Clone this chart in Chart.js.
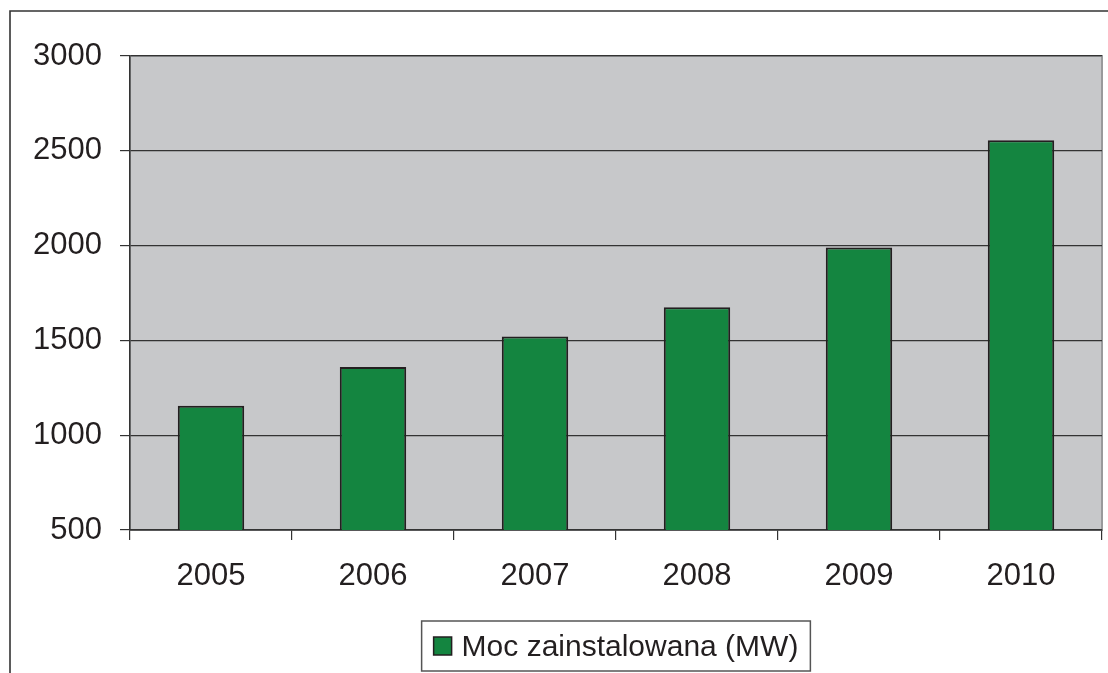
<!DOCTYPE html>
<html>
<head>
<meta charset="utf-8">
<script src="https://cdn.jsdelivr.net/npm/chart.js@4"></script>
<style>
    html, body { margin: 0; padding: 0; background: #fff; }
    #wrap { width: 1108px; height: 673px; position: relative; }
</style>
</head>
<body>
<div id="wrap"><canvas id="MocChart"></canvas></div>
<script>
const years = ["2005", "2006", "2007", "2008", "2009", "2010"];
const mocValues = [1155, 1360, 1520, 1675, 1990, 2555];
const seriesLabel = "Moc zainstalowana (MW)";
const yTicks = [500, 1000, 1500, 2000, 2500, 3000];

const textColor = "#231f20";
const barGreen = "#148540";
const fontFamily = "'Liberation Sans', Arial, sans-serif";

// frame, plot background and the boxed legend
const framePlugin = {
    id: "frame",
    beforeDraw(chart) {
        const ctx = chart.ctx;
        const a = chart.chartArea;
        ctx.save();
        ctx.strokeStyle = "#333";
        ctx.lineWidth = 1.6;
        ctx.beginPath();
        ctx.moveTo(10, 673);
        ctx.lineTo(10, 11);
        ctx.lineTo(1108, 11);
        ctx.stroke();

        ctx.fillStyle = "#c7c8ca";
        ctx.fillRect(a.left, a.top, a.right - a.left, a.bottom - a.top);
        ctx.strokeStyle = "#999a9c";
        ctx.lineWidth = 2;
        ctx.strokeRect(a.left, a.top, a.right - a.left, a.bottom - a.top);
        ctx.restore();
    },
    afterDraw(chart) {
        const ctx = chart.ctx;
        const a = chart.chartArea;
        const ds = chart.data.datasets[0];
        ctx.save();
        ctx.font = "30px " + fontFamily;
        const tw = ctx.measureText(ds.label).width;
        const w = 12 + 18 + 10 + tw + 12;
        const h = 50;
        const x = (a.left + a.right) / 2 - w / 2;
        const y = 621;
        ctx.fillStyle = "#fff";
        ctx.fillRect(x, y, w, h);
        ctx.strokeStyle = "#555";
        ctx.lineWidth = 1.5;
        ctx.strokeRect(x, y, w, h);
        ctx.fillStyle = ds.backgroundColor;
        ctx.fillRect(x + 12, y + 16, 18, 18);
        ctx.strokeStyle = "#231f20";
        ctx.lineWidth = 1.5;
        ctx.strokeRect(x + 12, y + 16, 18, 18);
        ctx.fillStyle = textColor;
        ctx.textBaseline = "alphabetic";
        ctx.fillText(ds.label, x + 40, y + 35);
        ctx.restore();
    }
};

new Chart(document.querySelector("#MocChart"), {
    type: "bar",
    data: {
        labels: years,
        datasets: [{
            label: seriesLabel,
            data: mocValues,
            backgroundColor: barGreen,
            borderColor: "#231f20",
            borderWidth: 2,
            borderSkipped: false,
            barPercentage: 0.41,
            categoryPercentage: 1
        }]
    },
    options: {
        responsive: true,
        maintainAspectRatio: false,
        animation: false,
        layout: {
            padding: { top: 56, right: 6, left: 0, bottom: 0 }
        },
        plugins: {
            legend: { display: false },
            tooltip: { enabled: false }
        },
        scales: {
            x: {
                afterFit: s => { s.height = 143; },
                grid: {
                    offset: true,
                    drawOnChartArea: false,
                    drawTicks: true,
                    tickLength: 10,
                    color: "#333",
                    lineWidth: 1.2
                },
                border: { display: true, color: "#333", width: 1.5 },
                ticks: {
                    color: textColor,
                    padding: 18,
                    font: { family: fontFamily, size: 31 }
                }
            },
            y: {
                min: 500,
                max: 3000,
                afterFit: s => { s.width = 130; },
                afterBuildTicks: s => { s.ticks = yTicks.map(v => ({ value: v })); },
                grid: {
                    color: "#333",
                    lineWidth: 1.2,
                    drawTicks: true,
                    tickLength: 10
                },
                border: { display: true, color: "#333", width: 1.5 },
                ticks: {
                    color: textColor,
                    padding: 18,
                    font: { family: fontFamily, size: 31 },
                    callback: v => String(v)
                }
            }
        }
    },
    plugins: [framePlugin]
});
</script>
</body>
</html>
